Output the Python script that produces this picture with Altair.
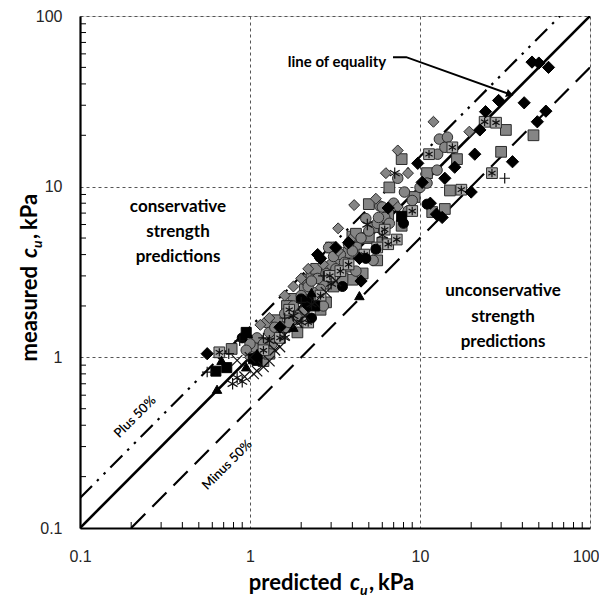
import altair as alt
import pandas as pd

# ---------------- data (predicted, measured) in kPa ----------------
gray_square_x = [0.78, 1.45, 1.4, 1.6, 1.8, 2.1, 2.2, 2.3, 2.5, 2.7, 3.1, 3.3, 3.7, 3.8, 4.0, 4.0, 4.2, 4.2, 4.6, 4.9,
                 5.0, 5.0, 5.6, 6.0, 6.6, 7.8, 7.8, 9.3, 11, 11.8, 14, 15, 16.5, 30, 32, 46.5, 1.9, 2.6, 3.5, 1.2,
                 1.65, 2.0, 3.0, 1.3, 2.8, 5.3, 6.5, 1.1, 2.45]
gray_square_y = [1.12, 1.65, 1.35, 1.5, 2.2, 2.5, 2.85, 3.0, 2.3, 2.7, 2.6, 3.6, 3.4, 4.1, 5.1, 2.85, 4.4, 5.3, 3.1, 5.0,
                 7.9, 5.1, 3.7, 4.7, 9.9, 14.5, 5.9, 8.7, 12, 7.1, 7.4, 9.5, 14.5, 16, 21.5, 20, 1.4, 1.9, 2.9, 0.95,
                 2.0, 1.75, 4.4, 1.05, 2.1, 5.8, 6.8, 1.25, 3.3]

gray_circle_x = [1.05, 1.15, 1.1, 1.2, 1.3, 1.25, 1.4, 1.5, 1.6, 1.7, 1.8, 1.9, 2.0, 2.1, 2.2, 2.4, 2.5, 2.6, 2.7, 2.8,
                 2.9, 3.0, 3.2, 3.4, 3.6, 3.8, 4.0, 4.2, 4.5, 5.0, 5.3, 5.6, 5.8, 6.0, 6.2, 6.6, 7.0, 7.4, 8.1, 8.5,
                 9.0, 10, 11, 12.6, 12.7, 13, 14, 14.5, 1.0, 0.95, 1.35, 2.3, 3.1, 4.8, 5.7]
gray_circle_y = [1.15, 1.05, 1.3, 1.2, 1.4, 1.6, 1.5, 1.35, 1.8, 1.6, 2.0, 1.7, 2.3, 1.9, 2.6, 2.2, 2.9, 2.5, 2.0, 3.1,
                 4.4, 3.5, 3.3, 4.0, 3.6, 4.6, 4.2, 3.2, 5.0, 5.5, 3.7, 6.1, 7.7, 7.6, 6.6, 6.1, 8.0, 11.2, 9.3, 7.2,
                 8.3, 9.9, 10.5, 12.5, 15.5, 19, 17, 19.5, 1.2, 1.1, 1.2, 2.8, 3.9, 6.5, 6.6]

gray_diamond_x = [2.0, 3.3, 3.3, 4.1, 6.3, 7.4, 8.5, 12, 7.4, 2.2, 1.6, 1.3, 2.7, 3.9, 1.8, 5.5, 2.4, 1.0, 19.5, 1.15]
gray_diamond_y = [2.9, 5.7, 4.2, 7.8, 12, 16.3, 12, 24, 7.6, 3.3, 2.3, 1.7, 3.5, 4.9, 2.6, 8.5, 2.4, 1.0, 21, 1.55]

black_diamond_x = [0.56, 45.6, 50, 57, 29, 41, 24.3, 55, 49, 22.5, 21, 35, 20, 13.5, 9.7, 14, 10.3, 11.5, 4.4, 3.2,
                   4.5, 2.6, 2.5, 1.5, 2.2, 3.8, 6.5, 16, 12.5]
black_diamond_y = [1.05, 53.7, 53, 50, 32, 31, 27.5, 27.7, 24, 21.5, 15.5, 14, 9.3, 6.6, 13.7, 11.2, 10.6, 8.0, 3.8, 4.4,
                   2.8, 3.8, 4.0, 1.5, 2.0, 4.7, 7.5, 13, 6.9]

black_circle_x = [11, 2.3, 3.5, 1.1, 0.9, 5.5, 8.0, 2.0, 4.8]
black_circle_y = [7.9, 1.7, 2.6, 1.0, 1.3, 4.3, 6.1, 2.2, 3.8]

black_square_x = [0.63, 0.73, 0.95, 1.1, 7.8, 1.05, 2.4, 2.2]
black_square_y = [0.83, 0.87, 1.4, 0.96, 6.7, 0.98, 2.0, 2.1]

black_triangle_x = [0.68, 0.95, 0.97, 0.64, 4.4, 1.1, 2.3, 1.8]
black_triangle_y = [0.96, 0.88, 1.38, 0.65, 2.3, 1.05, 2.4, 1.5]

boxed_x_x = [0.66, 2.2, 2.95, 5.6, 9.0, 11.3, 15.5, 17.5, 24, 28, 26.5, 1.7, 3.4, 4.7, 2.6, 1.5, 6.2, 1.2, 3.8,
             6.5, 7.3]
boxed_x_y = [1.07, 1.6, 3.0, 4.4, 7.2, 15.5, 17, 9.6, 24, 23.7, 12, 1.9, 3.2, 4.0, 2.3, 1.3, 5.6, 1.1, 3.5,
             4.6, 4.9]

asterisk_x = [0.79, 0.9, 0.84, 4.9, 7.1, 6.0, 1.3, 2.0, 2.3, 1.8, 3.0, 1.6]
asterisk_y = [0.7, 0.72, 0.76, 6.0, 12, 5.2, 1.25, 1.6, 2.05, 1.75, 2.7, 1.3]

cross_x = [0.84, 1.0, 1.3, 1.1, 1.2, 1.4, 1.6, 1.5, 1.9, 2.1, 2.4, 2.8, 3.2, 0.93, 1.05]
cross_y = [0.96, 1.0, 0.95, 0.83, 0.88, 1.1, 1.35, 1.15, 1.6, 1.75, 2.1, 2.4, 2.8, 0.77, 0.8]

plus_x = [0.56, 0.87, 31.5, 1.2, 2.0, 1.6, 2.7, 0.75]
plus_y = [0.82, 1.25, 11.2, 1.3, 2.1, 1.7, 3.0, 1.05]

# reference lines
equality_x = [0.1, 100]
equality_y = [0.1, 100]
plus50_x = [0.1, 66.67]
plus50_y = [0.15, 100]
minus50_x = [0.2, 100]
minus50_y = [0.1, 50]

# annotation arrow (data coordinates)
arrow_x = [6.94, 8.3, 33.8]
arrow_y = [57.4, 57.4, 34.8]

axis_values = [0.1, 1, 10, 100]
minor_values = [0.2, 0.3, 0.4, 0.5, 0.6, 0.7, 0.8, 0.9, 2, 3, 4, 5, 6, 7, 8, 9, 20, 30, 40, 50, 60, 70, 80, 90]

# ---------------- chart ----------------
W, H = 510, 512
FONT = "Lato"
LABEL_FONT = "Liberation Sans"

sx = alt.Scale(type="log", domain=[0.1, 100], nice=False)
sy = alt.Scale(type="log", domain=[0.1, 100], nice=False)

common_axis = dict(values=axis_values, format="~g", grid=True, gridDash=[3, 3], gridColor="#555555",
                   gridWidth=1, domainColor="#000000", domainWidth=2.2, ticks=False, tickSize=0,
                   labelFlush=False, labelOverlap=False,
                   labelFont=LABEL_FONT, labelFontSize=16, labelColor="#262626", title=None)
ax_x = alt.Axis(labelPadding=20,
                labelAlign={"condition": {"test": "datum.value >= 100", "value": "right"}, "value": "center"},
                labelOffset={"condition": {"test": "datum.value >= 100", "value": 9}, "value": 0},
                **common_axis)
ax_y = alt.Axis(labelPadding=18, **common_axis)


def X(field="x"):
    return alt.X(f"{field}:Q", scale=sx, axis=ax_x)


def Y(field="y"):
    return alt.Y(f"{field}:Q", scale=sy, axis=ax_y)


def df(xs, ys):
    return pd.DataFrame({"x": xs, "y": ys, "o": list(range(len(xs)))})


layers = []

# reference lines
layers.append(alt.Chart(df(equality_x, equality_y)).mark_line(color="black", strokeWidth=2.6, clip=True)
              .encode(x=X(), y=Y(), order="o:Q"))
layers.append(alt.Chart(df(plus50_x, plus50_y)).mark_line(color="black", strokeWidth=2.2,
                                                          strokeDash=[17, 7, 2.5, 7, 2.5, 7], clip=True)
              .encode(x=X(), y=Y(), order="o:Q"))
layers.append(alt.Chart(df(minus50_x, minus50_y)).mark_line(color="black", strokeWidth=2.2,
                                                            strokeDash=[20, 10], clip=True)
              .encode(x=X(), y=Y(), order="o:Q"))

GRAY = "#858585"
EDGE = "#2b2b2b"


def pts(xs, ys, shape, fill, stroke, size, sw=1.0, filled=True):
    if filled:
        m = alt.Chart(df(xs, ys)).mark_point(shape=shape, filled=True, fill=fill, stroke=stroke,
                                             strokeWidth=sw, size=size, opacity=1)
    else:
        m = alt.Chart(df(xs, ys)).mark_point(shape=shape, filled=False, stroke=stroke,
                                             strokeWidth=sw, size=size, opacity=1)
    return m.encode(x=X(), y=Y())


CROSS = "M-1,-1L1,1M-1,1L1,-1"
PLUS = "M-1,0L1,0M0,-1L0,1"
AST = "M0,-1L0,1M-0.87,-0.5L0.87,0.5M-0.87,0.5L0.87,-0.5"

layers.append(pts(gray_square_x, gray_square_y, "square", GRAY, EDGE, 115))
layers.append(pts(gray_circle_x, gray_circle_y, "circle", GRAY, EDGE, 110))
layers.append(pts(gray_diamond_x, gray_diamond_y, "diamond", GRAY, EDGE, 120))
layers.append(pts(boxed_x_x, boxed_x_y, "square", "#a8a8a8", EDGE, 115))
layers.append(pts(boxed_x_x, boxed_x_y, AST, None, "#111111", 70, sw=1.2, filled=False))
layers.append(pts(black_diamond_x, black_diamond_y, "diamond", "#000000", "#000000", 150))
layers.append(pts(black_circle_x, black_circle_y, "circle", "#000000", "#000000", 100))
layers.append(pts(black_square_x, black_square_y, "square", "#000000", "#000000", 100))
layers.append(pts(black_triangle_x, black_triangle_y, "triangle-up", "#000000", "#000000", 90))
layers.append(pts(asterisk_x, asterisk_y, AST, None, "#111111", 130, sw=1.2, filled=False))
layers.append(pts(cross_x, cross_y, CROSS, None, "#111111", 110, sw=1.2, filled=False))
layers.append(pts(plus_x, plus_y, PLUS, None, "#111111", 110, sw=1.2, filled=False))

# minor inside ticks
minor_df = pd.DataFrame({"v": minor_values})
layers.append(alt.Chart(minor_df).mark_rule(color="black", strokeWidth=1)
              .encode(x=alt.X("v:Q", scale=sx, axis=ax_x), y=alt.value(H), y2=alt.value(H - 6)))
layers.append(alt.Chart(minor_df).mark_rule(color="black", strokeWidth=1)
              .encode(y=alt.Y("v:Q", scale=sy, axis=ax_y), x=alt.value(0), x2=alt.value(6)))

# arrow for "line of equality"
layers.append(alt.Chart(df(arrow_x, arrow_y)).mark_line(color="black", strokeWidth=2)
              .encode(x=X(), y=Y(), order="o:Q"))
layers.append(alt.Chart(df(arrow_x[-1:], arrow_y[-1:])).mark_point(shape="triangle-right", filled=True,
                                                                   color="black", size=70, angle=19, opacity=1)
              .encode(x=X(), y=Y()))

# in-plot annotations (data coordinates)
ann = pd.DataFrame({
    "x": [0.211, 0.733],
    "y": [0.447, 0.234],
    "t": ["Plus 50%", "Minus 50%"],
})
layers.append(alt.Chart(ann).mark_text(font=FONT, fontSize=13, angle=315, color="black", fontWeight=600)
              .encode(x=X(), y=Y(), text="t:N"))


def label(text, x, y, size=17, weight="bold", style="normal", align="center", baseline="middle", angle=0):
    kw = dict(text=text, font=FONT, fontSize=size, fontWeight=weight, fontStyle=style, align=align,
              baseline=baseline, color="black")
    if angle:
        kw["angle"] = angle
    return alt.Chart(pd.DataFrame({"k": [0]})).mark_text(**kw).encode(x=alt.value(x), y=alt.value(y))


for i, t in enumerate(["conservative", "strength", "predictions"]):
    layers.append(label(t, 98, 191 + 25 * i))
for i, t in enumerate(["unconservative", "strength", "predictions"]):
    layers.append(label(t, 423, 275 + 25.5 * i))
layers.append(label("line of equality", 257, 46, size=15))

# axis titles composed from pieces (italic c with subscript u)
TS = 22
layers.append(label("predicted", 262, 574, size=TS, align="right", baseline="alphabetic"))
layers.append(label("c", 270, 574, size=TS, style="italic", align="left", baseline="alphabetic"))
layers.append(label("u", 280, 579, size=14, style="italic", align="left", baseline="alphabetic"))
layers.append(label(",", 289, 574, size=TS, align="left", baseline="alphabetic"))
layers.append(label("kPa", 298, 574, size=TS, align="left", baseline="alphabetic"))

layers.append(label("measured", -43, 250, size=TS, align="right", baseline="alphabetic", angle=270))
layers.append(label("c", -43, 242, size=TS, style="italic", align="left", baseline="alphabetic", angle=270))
layers.append(label("u", -38, 232, size=14, style="italic", align="left", baseline="alphabetic", angle=270))
layers.append(label(",", -43, 223, size=TS, align="left", baseline="alphabetic", angle=270))
layers.append(label("kPa", -43, 214, size=TS, align="left", baseline="alphabetic", angle=270))

chart = alt.layer(*layers).properties(
    width=W, height=H,
    autosize=alt.AutoSizeParams(type="none"),
    padding={"left": 72, "top": 8, "right": 9, "bottom": 70},
).configure_view(stroke=None).configure(background="white")

chart.save("out.html", embed_options={"renderer": "svg", "actions": False})
